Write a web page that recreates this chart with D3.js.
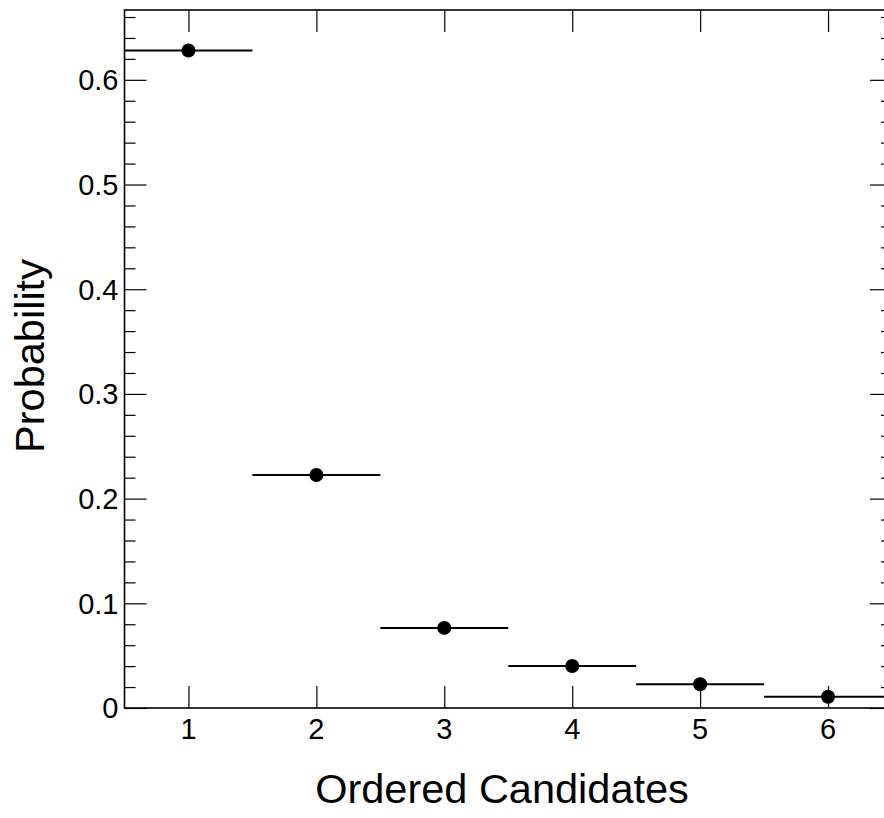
<!DOCTYPE html>
<html>
<head>
<meta charset="utf-8">
<script src="https://cdn.jsdelivr.net/npm/d3@7"></script>
<style>
  html, body { margin: 0; padding: 0; background: #fff; }
  svg { display: block; font-family: "Liberation Sans", Arial, sans-serif; }
</style>
</head>
<body>
<svg id="chart" width="884" height="818"></svg>
<script>
// Candidate ranks and their probabilities
const candidates = [1, 2, 3, 4, 5, 6];
const probabilities = [0.628, 0.2225, 0.0765, 0.0401, 0.0227, 0.0108];
const xTickValues = [1, 2, 3, 4, 5, 6];
const yTickValues = [0, 0.1, 0.2, 0.3, 0.4, 0.5, 0.6];
const yTickLabels = ["0", "0.1", "0.2", "0.3", "0.4", "0.5", "0.6"];

const svg = d3.select("#chart");
const frame = { left: 124.5, right: 892, top: 10, bottom: 708 };

const x = d3.scaleLinear().domain([0.5, 6.5]).range([frame.left, frame.right]);
const y = d3.scaleLinear().domain([0, 0.6667]).range([frame.bottom, frame.top]);

const majorLen = 22, minorLen = 11;
const minorTicks = d3.range(0, 0.6667, 0.02).filter(v => Math.abs(v * 10 - Math.round(v * 10)) > 1e-6);

const g = svg.append("g");

// Left axis: major ticks with labels, minor ticks without
g.append("g").attr("transform", `translate(${frame.left},0)`)
  .call(d3.axisRight(y).tickValues(yTickValues).tickSize(majorLen).tickFormat(""))
  .select(".domain").remove();
g.append("g").attr("transform", `translate(${frame.left},0)`)
  .call(d3.axisRight(y).tickValues(minorTicks).tickSize(minorLen).tickFormat(""))
  .select(".domain").remove();
g.append("g").selectAll("text").data(yTickValues).join("text")
  .attr("x", frame.left - 6).attr("y", d => y(d) + 10.3)
  .attr("text-anchor", "end").attr("font-size", 29).attr("fill", "#000")
  .text((d, i) => yTickLabels[i]);

// Right axis (mirror ticks)
g.append("g").attr("transform", `translate(${frame.right},0)`)
  .call(d3.axisLeft(y).tickValues(yTickValues).tickSize(majorLen).tickFormat(""))
  .select(".domain").remove();
g.append("g").attr("transform", `translate(${frame.right},0)`)
  .call(d3.axisLeft(y).tickValues(minorTicks).tickSize(minorLen).tickFormat(""))
  .select(".domain").remove();

// Bottom axis
g.append("g").attr("transform", `translate(0,${frame.bottom})`)
  .call(d3.axisTop(x).tickValues(xTickValues).tickSize(majorLen).tickFormat(""))
  .select(".domain").remove();
g.append("g").selectAll("text").data(xTickValues).join("text")
  .attr("x", d => x(d)).attr("y", frame.bottom + 31)
  .attr("text-anchor", "middle").attr("font-size", 29).attr("fill", "#000")
  .text(d => d3.format("d")(d));

// Top axis
g.append("g").attr("transform", `translate(0,${frame.top})`)
  .call(d3.axisBottom(x).tickValues(xTickValues).tickSize(majorLen).tickFormat(""))
  .select(".domain").remove();

g.selectAll(".tick line").attr("stroke", "#000").attr("stroke-width", 1.2);

// Frame
g.append("rect")
  .attr("x", frame.left).attr("y", frame.top)
  .attr("width", frame.right - frame.left).attr("height", frame.bottom - frame.top)
  .attr("fill", "none").attr("stroke", "#000").attr("stroke-width", 1.6);

// Bin-width horizontal bars
const data = candidates.map((c, i) => ({ c, p: probabilities[i] }));
g.append("g").selectAll("line").data(data).join("line")
  .attr("x1", d => x(d.c - 0.5)).attr("x2", d => x(d.c + 0.5))
  .attr("y1", d => y(d.p)).attr("y2", d => y(d.p))
  .attr("stroke", "#000").attr("stroke-width", 2);

// Markers
g.append("g").selectAll("circle").data(data).join("circle")
  .attr("cx", d => x(d.c)).attr("cy", d => y(d.p)).attr("r", 7)
  .attr("fill", "#000");

// Axis titles
svg.append("text")
  .attr("x", 502).attr("y", 803)
  .attr("text-anchor", "middle").attr("font-size", 41.5).attr("fill", "#000")
  .text("Ordered Candidates");
svg.append("text")
  .attr("transform", "translate(44,356) rotate(-90)")
  .attr("text-anchor", "middle").attr("font-size", 41.5).attr("fill", "#000")
  .text("Probability");
</script>
</body>
</html>
